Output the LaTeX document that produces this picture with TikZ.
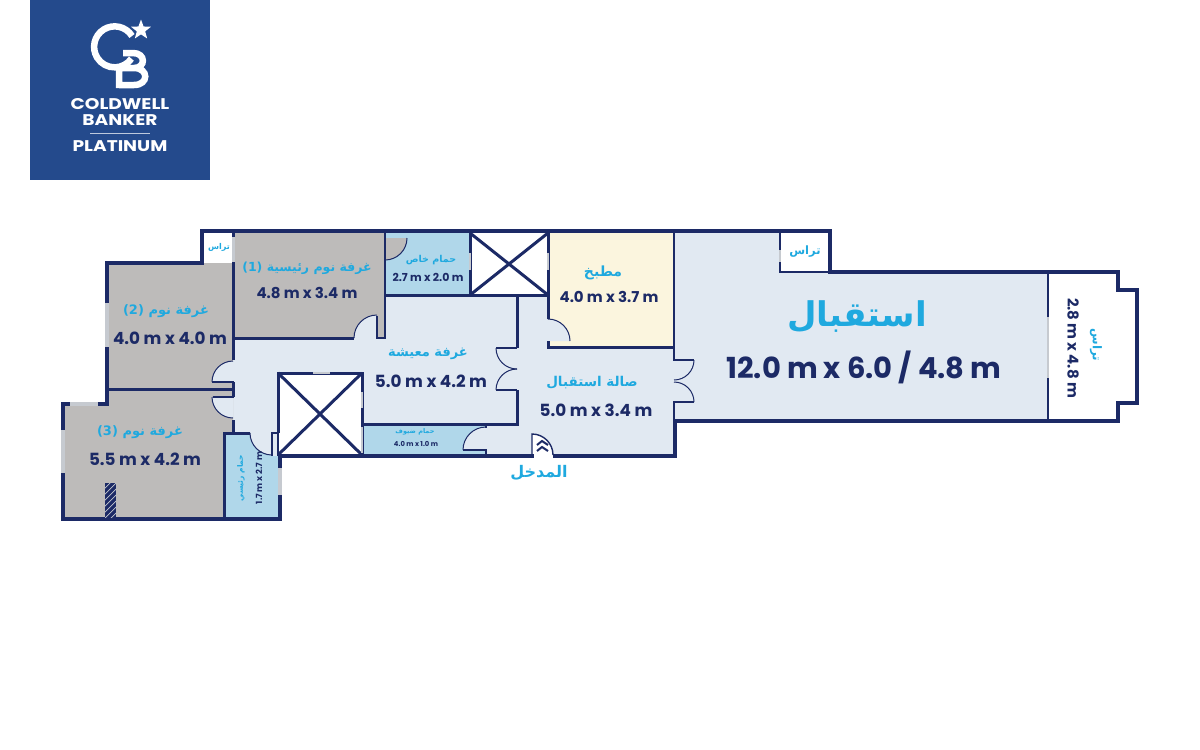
\documentclass[tikz,border=0pt]{standalone}
\usepackage{fontspec}
\usetikzlibrary{shapes.geometric,patterns}
\TeXXeTstate=1
\setmainfont{Poppins}
\newfontfamily\arabicfont[Script=Arabic]{DejaVu Sans}
\newfontfamily\latinfam{Poppins}[WordSpace=1.7]
\newfontfamily\logofam{Poppins}
\newcommand{\latinb}{\latinfam\bfseries}
\newcommand{\logotext}[1]{\scalebox{1.2}[1]{\logofam\bfseries\fontsize{15.5}{17}\selectfont #1}}
\definecolor{navy}{HTML}{1C2A66}
\definecolor{cyantext}{HTML}{1FA9DF}
\definecolor{hallc}{HTML}{E1E9F2}
\definecolor{greyc}{HTML}{BDBBBA}
\definecolor{bathc}{HTML}{B0D7EA}
\definecolor{kitc}{HTML}{FBF5DE}
\definecolor{logoc}{HTML}{244A8C}
\definecolor{winc}{HTML}{C6CAD0}
\newcommand{\ar}[1]{{\arabicfont\bfseries\beginR #1\endR}}
\tikzset{
  outer/.style={draw=navy,line width=4.5pt,line join=miter},
  wall/.style={draw=navy,line width=3pt},
  thin wall/.style={draw=navy,line width=2pt},
  swing/.style={draw=navy,line width=1pt},
  win/.style={draw=winc,line width=3.4pt},
  lab/.style={inner sep=0pt,text=cyantext},
  dim/.style={inner sep=0pt,text=navy},
}
\newcommand{\pie}[6]{\fill[#1] (#2,#3) -- +(#4:#6) arc[start angle=#4,end angle=#5,radius=#6] -- cycle;}
\newcommand{\swingarc}[5]{\draw[swing] (#1,#2) ++(#3:#5) arc[start angle=#3,end angle=#4,radius=#5];}
\begin{document}
\begin{tikzpicture}[x=1pt,y=-1pt]
\useasboundingbox (0,0) rectangle (1200,750);
% logo
\fill[logoc] (30,0) rectangle (210,180);
\draw[white,line width=6.5pt] (132,36) arc[start angle=-32,end angle=-325,radius=20.5];
\draw[white,line width=6.5pt,line join=miter] (119,88) -- (119,64) (119,85) -- (134,85) .. controls (149,85) and (149,68) .. (134,68) -- (122,68) (123,53) -- (133,53) .. controls (146,53) and (146,68) .. (134,68);
\node[star,star points=5,star point ratio=2.4,fill=white,inner sep=0pt,minimum size=21pt] (logostar) at (141,30) {};
\node[inner sep=0pt,text=white] (logo1) at (120,104) {\logotext{COLDWELL}};
\node[inner sep=0pt,text=white] (logo2) at (120,120) {\logotext{BANKER}};
\draw[white!70!logoc,line width=.8pt] (90,133) -- (150,133);
\node[inner sep=0pt,text=white] (logo3) at (120,146) {\logotext{PLATINUM}};
% floors
\fill[hallc] (202,231) -- (830,231) -- (830,272) -- (1118,272) -- (1118,290) -- (1137,290) -- (1137,403) -- (1118,403) -- (1118,421) -- (675,421) -- (675,456) -- (280,456) -- (280,519) -- (63,519) -- (63,404) -- (107,404) -- (107,263) -- (202,263) -- cycle;
\fill[greyc] (233,233) rectangle (385,338);
\fill[greyc] (107,263) rectangle (233,389);
\fill[greyc] (63,404) -- (107,404) -- (107,389) -- (233,389) -- (233,433) -- (225,433) -- (225,519) -- (63,519) -- cycle;
\fill[bathc] (225,433) rectangle (280,519);
\fill[bathc] (385,233) rectangle (470,295);
\fill[bathc] (362,424) rectangle (486,456);
\fill[kitc] (548,233) rectangle (674,347);
\fill[white] (202,233) rectangle (233,263);
\fill[white] (470,233) rectangle (548,295);
\fill[white] (278,373) rectangle (362,455);
\fill[white] (780,233) rectangle (829,272);
\fill[white] (1048,272) -- (1118,272) -- (1118,290) -- (1137,290) -- (1137,403) -- (1118,403) -- (1118,421) -- (1048,421) -- cycle;
% door pies
\pie{hallc}{377}{338}{180}{270}{23}
\pie{hallc}{233}{382}{180}{270}{21}
\pie{hallc}{233}{397}{180}{90}{21}
\pie{hallc}{272}{433}{180}{90}{22}
\pie{greyc}{385}{238}{0}{90}{22}
\pie{hallc}{486}{450}{270}{180}{23}
\pie{hallc}{548}{341}{270}{360}{22}
\pie{white}{532}{455}{270}{360}{21}
\fill[hallc] (272,433) rectangle (278,456);
% inner walls
\draw[wall] (233.5,231) -- (233.5,360) (233.5,382) -- (233.5,397) (233.5,420) -- (233.5,433);
\draw[thin wall] (233.5,382) -- (212,382) (233.5,397) -- (213,397);
\draw[wall] (107,389) -- (233.5,389);
\draw[wall] (224,519) -- (224,433) -- (250,433);
\draw[wall] (233,338) -- (354,338);
\draw[thin wall] (377,316) -- (377,338) -- (385,338) -- (385,233);
\draw[wall] (385,295) -- (548,295);
\draw[wall] (470,231) -- (470,295);
\draw[wall] (548,231) -- (548,319);
\draw[wall] (548,341) -- (548,347) -- (674,347);
\draw[wall] (517,348) -- (517,295);
\draw[thin wall] (496,348) -- (517,348) (496,390) -- (517,390);
\draw[wall] (517,390) -- (517,424) -- (362,424);
\draw[wall] (278,373) -- (362,373) -- (362,455);
\draw[wall] (278.5,371.5) -- (278.5,433);
\draw[thin wall] (278.5,433) -- (272,433) -- (272,456);
\draw[thin wall] (278,433) -- (278,456);
\draw[thin wall] (486,424) -- (486,428) (463,450) -- (486,450) -- (486,456);
\draw[thin wall] (694,360) -- (674,360) -- (674,231);
\draw[thin wall] (694,402) -- (674,402) -- (674,456);
\draw[thin wall] (780,231) -- (780,272) -- (829,272);
\draw[thin wall] (1048,272) -- (1048,421);
% shaft crosses
\draw[wall] (470,233) -- (548,295) (548,233) -- (470,295);
\draw[wall] (278,373) -- (362,455) (362,373) -- (278,455);
% door swings
\swingarc{377}{338}{180}{270}{23}
\swingarc{233}{382}{180}{270}{21}
\swingarc{233}{397}{180}{90}{21}
\swingarc{272}{433}{180}{90}{22}
\swingarc{385}{238}{0}{90}{22}
\swingarc{486}{450}{270}{180}{23}
\swingarc{548}{341}{270}{360}{22}
\swingarc{517}{348}{180}{90}{21}
\swingarc{517}{390}{180}{270}{21}
\swingarc{674}{360}{0}{90}{20}
\swingarc{674}{402}{360}{270}{20}
% outer wall
\draw[outer] (202,263) -- (202,231) -- (830,231) -- (830,272) -- (1118,272) -- (1118,290) -- (1137,290) -- (1137,403) -- (1118,403) -- (1118,421) -- (675,421) -- (675,456) -- (280,456) -- (280,519) -- (63,519) -- (63,404) -- (107,404) -- (107,263) -- cycle;
% entrance
\fill[white] (533.5,453) rectangle (553,459);
\draw[swing,line width=1.4pt] (532,455) -- (532,434) arc[start angle=270,end angle=360,radius=21];
\draw[navy,line width=2pt] (537,445) -- (542,441) -- (548,445) (537,451) -- (542,447) -- (548,451);
% windows
\draw[win] (107,303) -- (107,347);
\draw[win] (70,404) -- (98,404);
\draw[win] (63,430) -- (63,473);
\draw[win] (280,468) -- (280,495);
\draw[win,line width=2.4pt] (233.5,237) -- (233.5,262);
\draw[win,line width=2.4pt] (313,373) -- (330,373);
\draw[win,line width=2.4pt] (362,392) -- (362,408) (362,427) -- (362,453);
\draw[win,line width=2.4pt] (470,253) -- (470,270) (548,253) -- (548,270);
\draw[win,line width=2pt] (780,250) -- (780,262);
\draw[win,line width=2.2pt] (1048,317) -- (1048,378);
% column
\fill[navy] (105,483) rectangle (116,517);
\begin{scope}
\clip (105,483) rectangle (116,517);
\foreach \k in {0,6,...,42} \draw[winc,line width=.7pt] (104,483+\k) -- (117,470+\k);
\end{scope}
% labels
\node[lab] (t1) at (307,268) {\fontsize{12.5}{15}\selectfont\ar{غرفة نوم رئيسية (1)}};
\node[dim] (d1) at (307,293) {\latinb\fontsize{15}{16}\selectfont 4.8 m x 3.4 m};
\node[lab] (t2) at (166,311) {\fontsize{13}{15}\selectfont\ar{غرفة نوم (2)}};
\node[dim] (d2) at (170,338) {\latinb\fontsize{16.8}{18}\selectfont 4.0 m x 4.0 m};
\node[lab] (t3) at (140,432) {\fontsize{13}{15}\selectfont\ar{غرفة نوم (3)}};
\node[dim] (d3) at (145,459) {\latinb\fontsize{16.8}{18}\selectfont 5.5 m x 4.2 m};
\node[lab,rotate=90] (t4) at (241,478) {\fontsize{7.5}{9}\selectfont\ar{حمام رئيسي}};
\node[dim,rotate=90] (d4) at (259,478) {\latinb\fontsize{8.5}{9}\selectfont 1.7 m x 2.7 m};
\node[lab] (t5) at (431,260) {\fontsize{9.5}{10}\selectfont\ar{حمام خاص}};
\node[dim] (d5) at (428,277) {\latinb\fontsize{11}{12}\selectfont 2.7 m x 2.0 m};
\node[lab] (t6) at (603,273) {\fontsize{14}{15}\selectfont\ar{مطبخ}};
\node[dim] (d6) at (609,297) {\latinb\fontsize{15}{16}\selectfont 4.0 m x 3.7 m};
\node[lab] (t7) at (428,354) {\fontsize{13}{15}\selectfont\ar{غرفة معيشة}};
\node[dim] (d7) at (431,381) {\latinb\fontsize{16.8}{18}\selectfont 5.0 m x 4.2 m};
\node[lab] (t8) at (592,383) {\fontsize{13.5}{15}\selectfont\ar{صالة استقبال}};
\node[dim] (d8) at (596,410) {\latinb\fontsize{16.8}{18}\selectfont 5.0 m x 3.4 m};
\node[lab] (t9) at (415,432) {\fontsize{6.5}{7}\selectfont\ar{حمام ضيوف}};
\node[dim] (d9) at (416,444) {\latinb\fontsize{6.8}{8}\selectfont 4.0 m x 1.0 m};
\node[lab] (t10) at (539,473) {\fontsize{16}{17}\selectfont\ar{المدخل}};
\node[lab] (t11) at (857,317) {\fontsize{34}{36}\selectfont\ar{استقبال}};
\node[dim] (d11) at (864,367) {\latinb\fontsize{29}{32}\selectfont 12.0 m x 6.0 / 4.8 m};
\node[lab] (t12) at (805,252) {\fontsize{11.5}{13}\selectfont\ar{تراس}};
\node[lab] (t13) at (219,247) {\fontsize{8}{9}\selectfont\ar{تراس}};
\node[lab,rotate=-90] (t14) at (1096,345) {\fontsize{12}{14}\selectfont\ar{تراس}};
\node[dim,rotate=-90] (d14) at (1073,348) {\latinb\fontsize{15}{16}\selectfont 2.8 m x 4.8 m};
\end{tikzpicture}
\end{document}
